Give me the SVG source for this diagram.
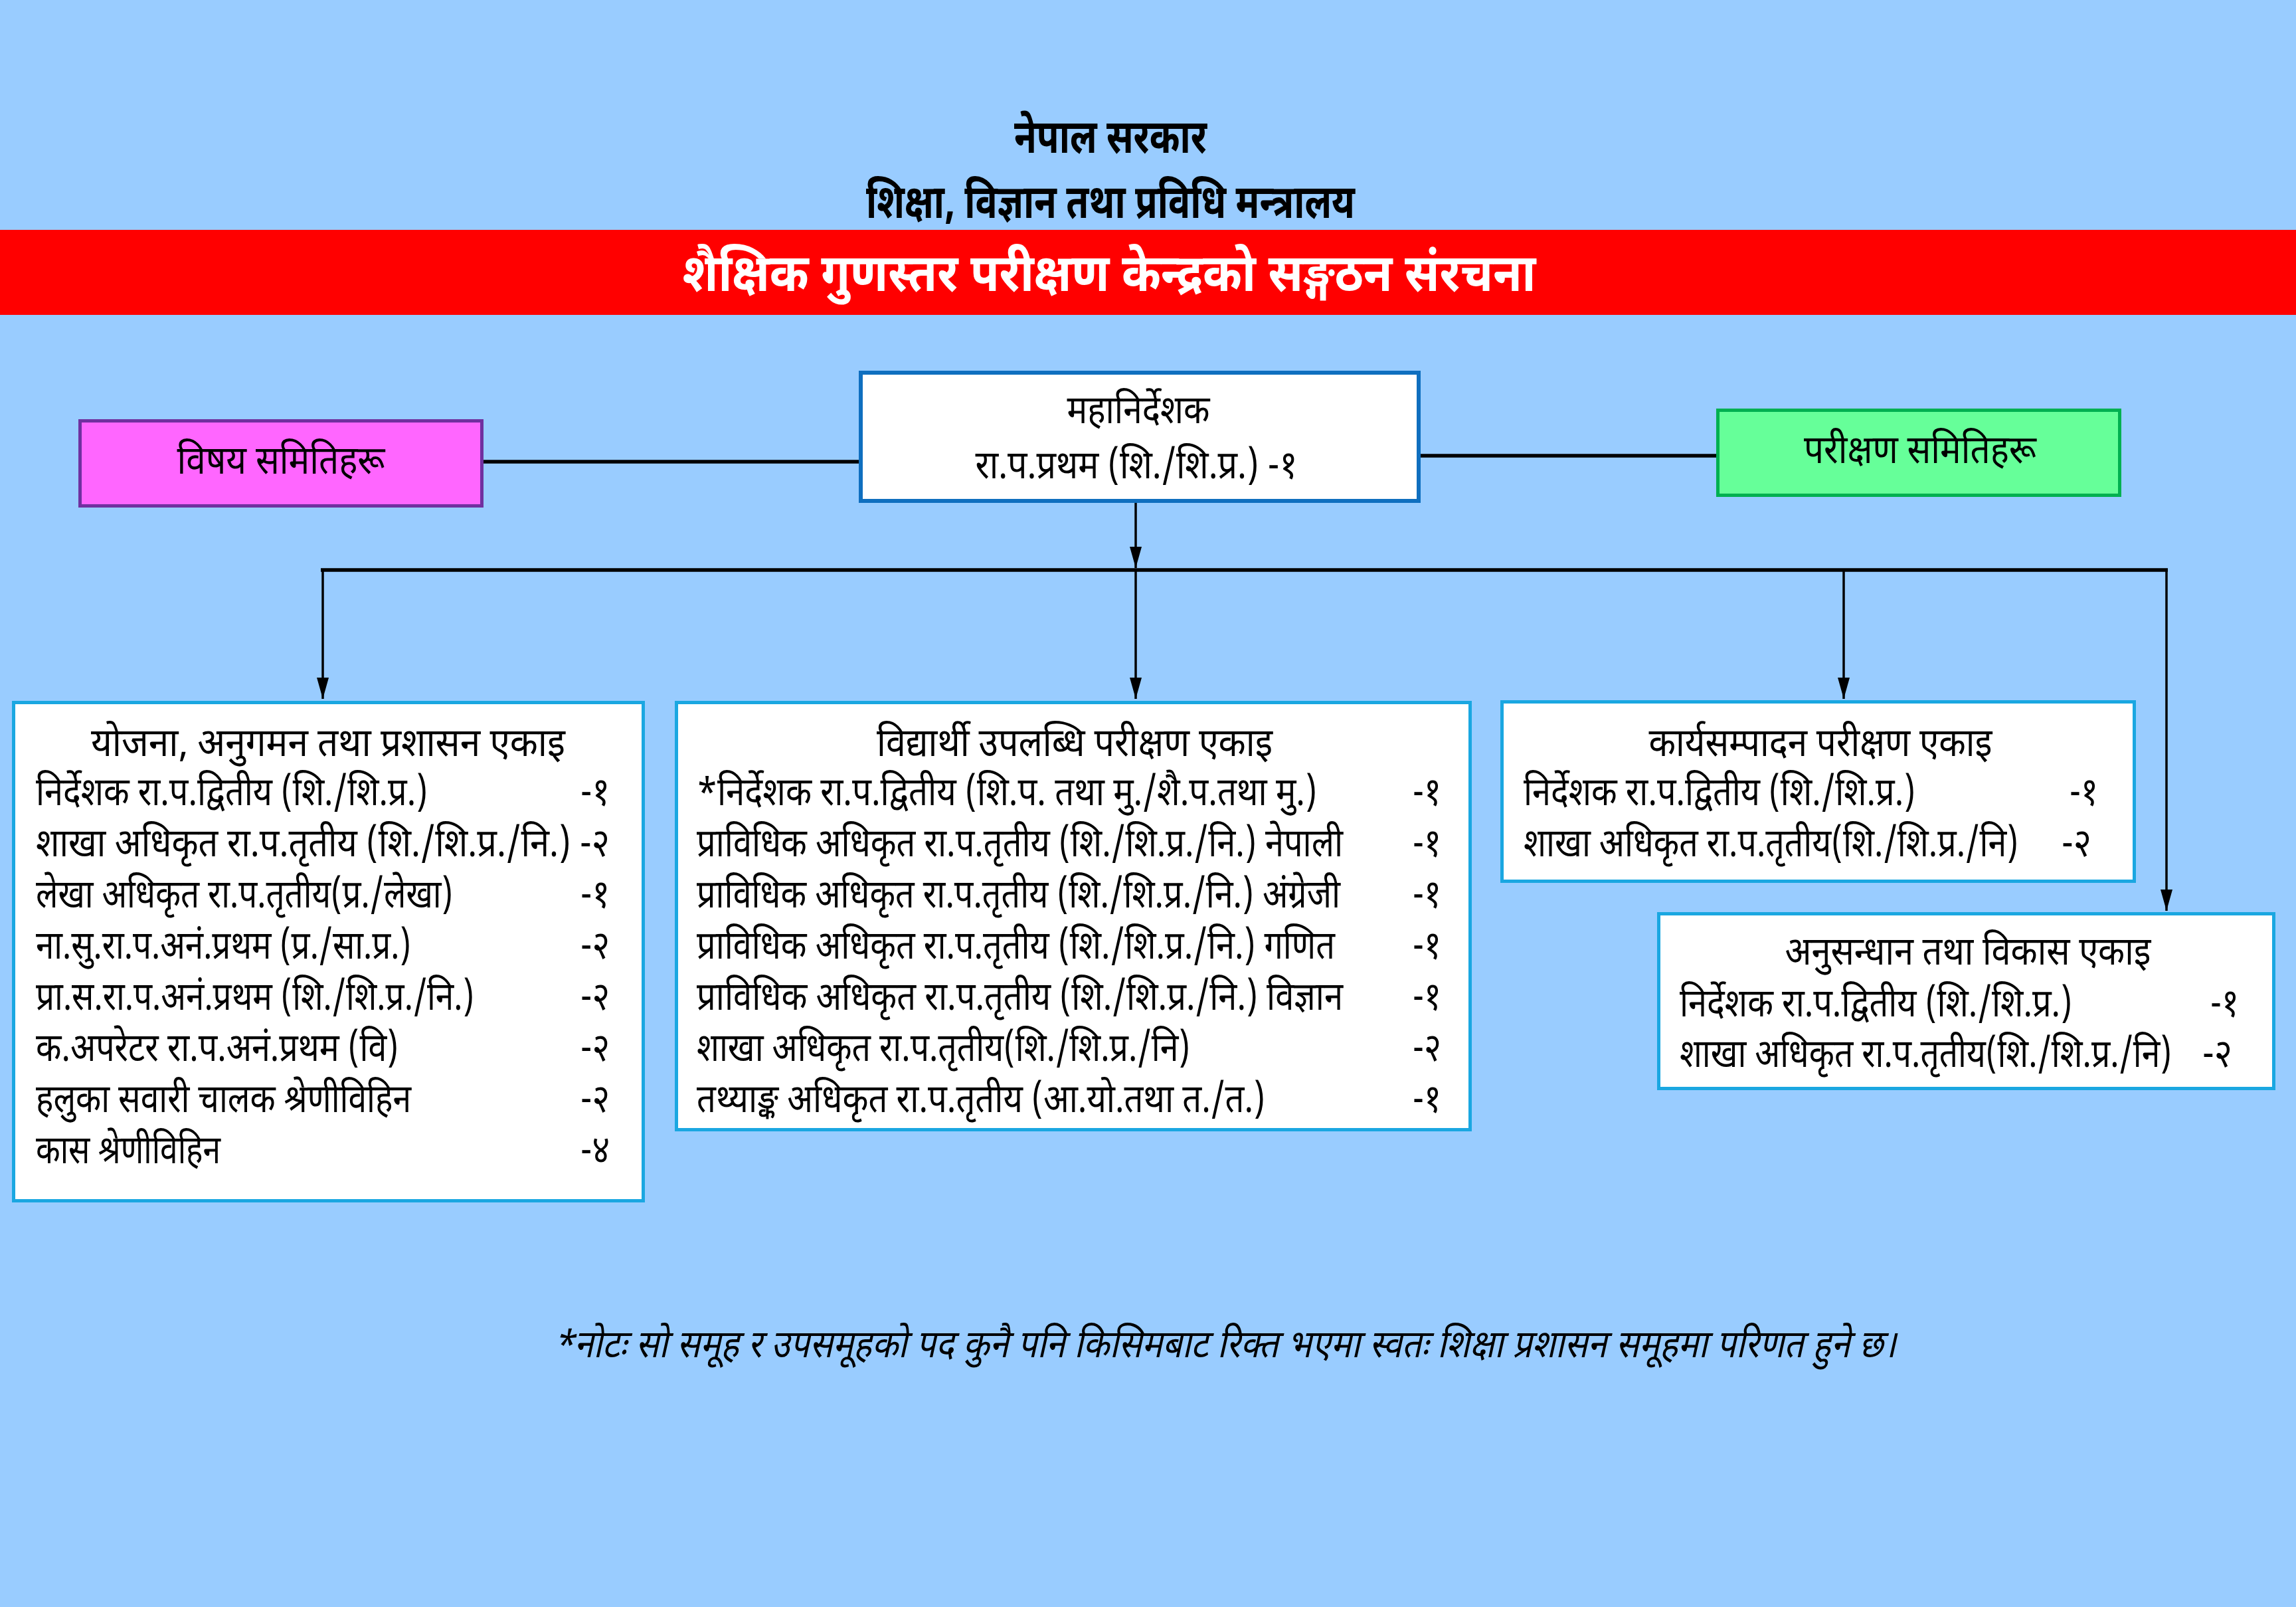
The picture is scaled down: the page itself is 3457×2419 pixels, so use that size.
<svg xmlns="http://www.w3.org/2000/svg" width="3457" height="2419" viewBox="0 0 3457 2419">
<defs>
<style>
text{font-family:"Noto Sans Devanagari","Lohit Devanagari","Noto Sans","FreeSans","DejaVu Sans",sans-serif;fill:#000;font-size:59px;}
.c{text-anchor:middle;}
.r{font-size:50px;}
.hd{font-size:70px;font-weight:bold;}
.tt{font-size:78px;font-weight:bold;fill:#fff;}
.unit{fill:#fff;stroke:#1AA7E1;stroke-width:5;}
.ln{stroke:#000;stroke-width:5.5;fill:none;}
.dr{stroke:#000;stroke-width:3.5;fill:none;}
.note{font-style:italic;font-size:58px;}
</style>
<marker id="av" markerUnits="userSpaceOnUse" markerWidth="18" markerHeight="32" refX="9" refY="32" orient="0" viewBox="0 0 18 32">
<path d="M0,0 L18,0 L9,32 Z" fill="#000"/>
</marker>
</defs>
<rect x="0" y="0" width="3457" height="2419" fill="#99CCFF"/>
<g id="header">
<text class="c hd" x="1672" y="230" textLength="290" lengthAdjust="spacingAndGlyphs">नेपाल सरकार</text>
<text class="c hd" x="1672" y="328" textLength="736" lengthAdjust="spacingAndGlyphs">शिक्षा, विज्ञान तथा प्रविधि मन्त्रालय</text>
<rect x="0" y="346" width="3457" height="128" fill="#FF0000"/>
<text class="c tt" x="1670" y="438" textLength="1285" lengthAdjust="spacingAndGlyphs">शैक्षिक गुणस्तर परीक्षण केन्द्रको सङ्गठन संरचना</text>
</g>
<g id="connectors">
<line class="ln" x1="728" y1="695" x2="1293" y2="695"/>
<line class="ln" x1="2139" y1="686" x2="2584" y2="686"/>
<line class="dr" x1="1710" y1="757" x2="1710" y2="855" marker-end="url(#av)"/>
<line class="ln" x1="483" y1="858" x2="3264" y2="858"/>
<line class="dr" x1="486" y1="858" x2="486" y2="1052" marker-end="url(#av)"/>
<line class="dr" x1="1710" y1="858" x2="1710" y2="1052" marker-end="url(#av)"/>
<line class="dr" x1="2776" y1="858" x2="2776" y2="1052" marker-end="url(#av)"/>
<line class="dr" x1="3262" y1="856" x2="3262" y2="1371" marker-end="url(#av)"/>
</g>
<g id="director-general">
<rect x="1296" y="561" width="840" height="193" fill="#fff" stroke="#0F6FBF" stroke-width="6"/>
<text class="c" x="1714" y="637" textLength="215" lengthAdjust="spacingAndGlyphs">महानिर्देशक</text>
<text class="c" x="1711" y="720" textLength="485" lengthAdjust="spacingAndGlyphs">रा.प.प्रथम (शि./शि.प्र.) -१</text>
</g>
<g id="subject-committees">
<rect x="120.5" y="633.5" width="605" height="128" fill="#FF66FF" stroke="#7030A0" stroke-width="5"/>
<text class="c" x="423" y="713" textLength="313" lengthAdjust="spacingAndGlyphs">विषय समितिहरू</text>
</g>
<g id="exam-committees">
<rect x="2586.5" y="617.5" width="605" height="128" fill="#66FF99" stroke="#00B050" stroke-width="5"/>
<text class="c" x="2891" y="697" textLength="350" lengthAdjust="spacingAndGlyphs">परीक्षण समितिहरू</text>
</g>
<g id="unit-planning">
<rect class="unit" x="20.5" y="1057.5" width="948" height="750"/>
<text class="c" x="494" y="1138" textLength="714" lengthAdjust="spacingAndGlyphs">योजना, अनुगमन तथा प्रशासन एकाइ</text>
<g transform="scale(1,1.18)">
<text class="r" x="54" y="1027.12"><tspan textLength="590" lengthAdjust="spacingAndGlyphs">निर्देशक रा.प.द्वितीय (शि./शि.प्र.)</tspan><tspan x="874" textLength="44" lengthAdjust="spacingAndGlyphs">-१</tspan></text>
<text class="r" x="54" y="1092.37" textLength="864" lengthAdjust="spacingAndGlyphs">शाखा अधिकृत रा.प.तृतीय (शि./शि.प्र./नि.) -२</text>
<text class="r" x="54" y="1157.63"><tspan textLength="628" lengthAdjust="spacingAndGlyphs">लेखा अधिकृत रा.प.तृतीय(प्र./लेखा)</tspan><tspan x="874" textLength="44" lengthAdjust="spacingAndGlyphs">-१</tspan></text>
<text class="r" x="54" y="1222.88"><tspan textLength="565" lengthAdjust="spacingAndGlyphs">ना.सु.रा.प.अनं.प्रथम (प्र./सा.प्र.)</tspan><tspan x="874" textLength="44" lengthAdjust="spacingAndGlyphs">-२</tspan></text>
<text class="r" x="54" y="1288.14"><tspan textLength="660" lengthAdjust="spacingAndGlyphs">प्रा.स.रा.प.अनं.प्रथम (शि./शि.प्र./नि.)</tspan><tspan x="874" textLength="44" lengthAdjust="spacingAndGlyphs">-२</tspan></text>
<text class="r" x="54" y="1353.39"><tspan textLength="546" lengthAdjust="spacingAndGlyphs">क.अपरेटर रा.प.अनं.प्रथम (वि)</tspan><tspan x="874" textLength="44" lengthAdjust="spacingAndGlyphs">-२</tspan></text>
<text class="r" x="54" y="1418.64"><tspan textLength="565" lengthAdjust="spacingAndGlyphs">हलुका सवारी चालक श्रेणीविहिन</tspan><tspan x="874" textLength="44" lengthAdjust="spacingAndGlyphs">-२</tspan></text>
<text class="r" x="54" y="1483.90"><tspan textLength="278" lengthAdjust="spacingAndGlyphs">कास श्रेणीविहिन</tspan><tspan x="874" textLength="44" lengthAdjust="spacingAndGlyphs">-४</tspan></text>
</g>
</g>
<g id="unit-student-achievement">
<rect class="unit" x="1018.5" y="1057.5" width="1195" height="643"/>
<text class="c" x="1618" y="1138" textLength="596" lengthAdjust="spacingAndGlyphs">विद्यार्थी उपलब्धि परीक्षण एकाइ</text>
<g transform="scale(1,1.18)">
<text class="r" x="1049" y="1027.12"><tspan textLength="934" lengthAdjust="spacingAndGlyphs">*निर्देशक रा.प.द्वितीय (शि.प. तथा मु./शै.प.तथा मु.)</tspan><tspan x="2127" textLength="43" lengthAdjust="spacingAndGlyphs">-१</tspan></text>
<text class="r" x="1049" y="1092.37"><tspan textLength="973" lengthAdjust="spacingAndGlyphs">प्राविधिक अधिकृत रा.प.तृतीय (शि./शि.प्र./नि.) नेपाली</tspan><tspan x="2127" textLength="43" lengthAdjust="spacingAndGlyphs">-१</tspan></text>
<text class="r" x="1049" y="1157.63"><tspan textLength="969" lengthAdjust="spacingAndGlyphs">प्राविधिक अधिकृत रा.प.तृतीय (शि./शि.प्र./नि.) अंग्रेजी</tspan><tspan x="2127" textLength="43" lengthAdjust="spacingAndGlyphs">-१</tspan></text>
<text class="r" x="1049" y="1222.88"><tspan textLength="961" lengthAdjust="spacingAndGlyphs">प्राविधिक अधिकृत रा.प.तृतीय (शि./शि.प्र./नि.) गणित</tspan><tspan x="2127" textLength="43" lengthAdjust="spacingAndGlyphs">-१</tspan></text>
<text class="r" x="1049" y="1288.14"><tspan textLength="973" lengthAdjust="spacingAndGlyphs">प्राविधिक अधिकृत रा.प.तृतीय (शि./शि.प्र./नि.) विज्ञान</tspan><tspan x="2127" textLength="43" lengthAdjust="spacingAndGlyphs">-१</tspan></text>
<text class="r" x="1049" y="1353.39"><tspan textLength="743" lengthAdjust="spacingAndGlyphs">शाखा अधिकृत रा.प.तृतीय(शि./शि.प्र./नि)</tspan><tspan x="2127" textLength="43" lengthAdjust="spacingAndGlyphs">-२</tspan></text>
<text class="r" x="1049" y="1418.64"><tspan textLength="856" lengthAdjust="spacingAndGlyphs">तथ्याङ्क अधिकृत रा.प.तृतीय (आ.यो.तथा त./त.)</tspan><tspan x="2127" textLength="43" lengthAdjust="spacingAndGlyphs">-१</tspan></text>
</g>
</g>
<g id="unit-performance">
<rect class="unit" x="2261.5" y="1056.5" width="952" height="270"/>
<text class="c" x="2741" y="1138" textLength="517" lengthAdjust="spacingAndGlyphs">कार्यसम्पादन परीक्षण एकाइ</text>
<g transform="scale(1,1.18)">
<text class="r" x="2294" y="1027.12"><tspan textLength="590" lengthAdjust="spacingAndGlyphs">निर्देशक रा.प.द्वितीय (शि./शि.प्र.)</tspan><tspan x="3116" textLength="43" lengthAdjust="spacingAndGlyphs">-१</tspan></text>
<text class="r" x="2294" y="1092.37"><tspan textLength="745" lengthAdjust="spacingAndGlyphs">शाखा अधिकृत रा.प.तृतीय(शि./शि.प्र./नि)</tspan><tspan x="3104" textLength="45" lengthAdjust="spacingAndGlyphs">-२</tspan></text>
</g>
</g>
<g id="unit-research">
<rect class="unit" x="2497.5" y="1375.5" width="926" height="263"/>
<text class="c" x="2963" y="1452" textLength="551" lengthAdjust="spacingAndGlyphs">अनुसन्धान तथा विकास एकाइ</text>
<g transform="scale(1,1.18)">
<text class="r" x="2529" y="1296.61"><tspan textLength="591" lengthAdjust="spacingAndGlyphs">निर्देशक रा.प.द्वितीय (शि./शि.प्र.)</tspan><tspan x="3328" textLength="43" lengthAdjust="spacingAndGlyphs">-१</tspan></text>
<text class="r" x="2529" y="1361.02"><tspan textLength="741" lengthAdjust="spacingAndGlyphs">शाखा अधिकृत रा.प.तृतीय(शि./शि.प्र./नि)</tspan><tspan x="3316" textLength="45" lengthAdjust="spacingAndGlyphs">-२</tspan></text>
</g>
</g>
<g id="note">
<text class="c note" x="1844" y="2043" textLength="2022" lengthAdjust="spacingAndGlyphs">*नोटः सो समूह र उपसमूहको पद कुनै पनि किसिमबाट रिक्त भएमा स्वतः शिक्षा प्रशासन समूहमा परिणत हुने छ।</text>
</g>
</svg>
